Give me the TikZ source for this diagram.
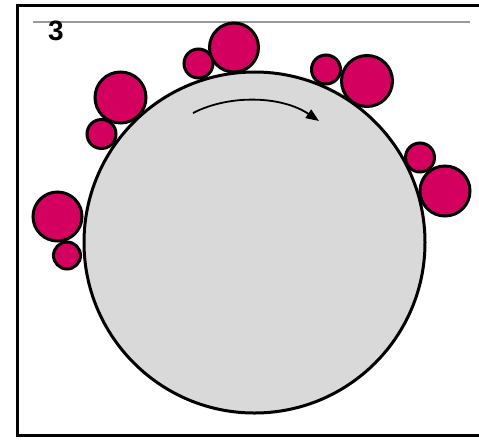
\documentclass[tikz,border=0pt]{standalone}
\usepackage{fontspec}
\setmainfont{Liberation Sans}
\usetikzlibrary{arrows.meta}
\definecolor{pinkball}{HTML}{D4005F}
\definecolor{disc}{HTML}{D9D9D9}
\begin{document}
\begin{tikzpicture}[x=1pt,y=-1pt,
  ball/.style={circle,draw=black,line width=3pt,fill=pinkball,inner sep=0pt,minimum size=#1},
  bigdisc/.style={circle,draw=black,line width=3pt,fill=disc,inner sep=0pt,minimum size=341pt}]
\useasboundingbox (0,0) rectangle (479,440);
\fill[white] (0,0) rectangle (479,440);
% frame
\draw[line width=3pt] (485,5) -- (17,5) -- (17,435) -- (485,435);
% gray rule
\draw[line width=2pt,gray!80] (33,22) -- (470,22);
\node[inner sep=0pt,scale=1.4] (num) at (56,31) {\fontsize{20}{20}\selectfont\bfseries 3};
% main disc
\node[bigdisc] (d) at (254.5,242.5) {};
% balls
\node[ball=49pt] (b1) at (234,47.5) {};
\node[ball=29pt] (s1) at (198.5,63.5) {};
\node[ball=29pt] (s2) at (326,69.5) {};
\node[ball=51pt] (b2) at (367,81) {};
\node[ball=51pt] (b3) at (120.5,97.5) {};
\node[ball=29pt] (s3) at (101.5,134) {};
\node[ball=29pt] (s4) at (420,157.5) {};
\node[ball=50pt] (b4) at (445,191) {};
\node[ball=49pt] (b5) at (57.5,216.5) {};
\node[ball=27pt] (s5) at (67,255.5) {};
% rotation arrow
\coordinate (a0) at (193,113);
\coordinate (a1) at (319,121);
\draw[line width=1.8pt,-{Triangle[length=13pt,width=10pt]}] (a0) .. controls (230,94) and (282,96) .. (a1);
\end{tikzpicture}
\end{document}
